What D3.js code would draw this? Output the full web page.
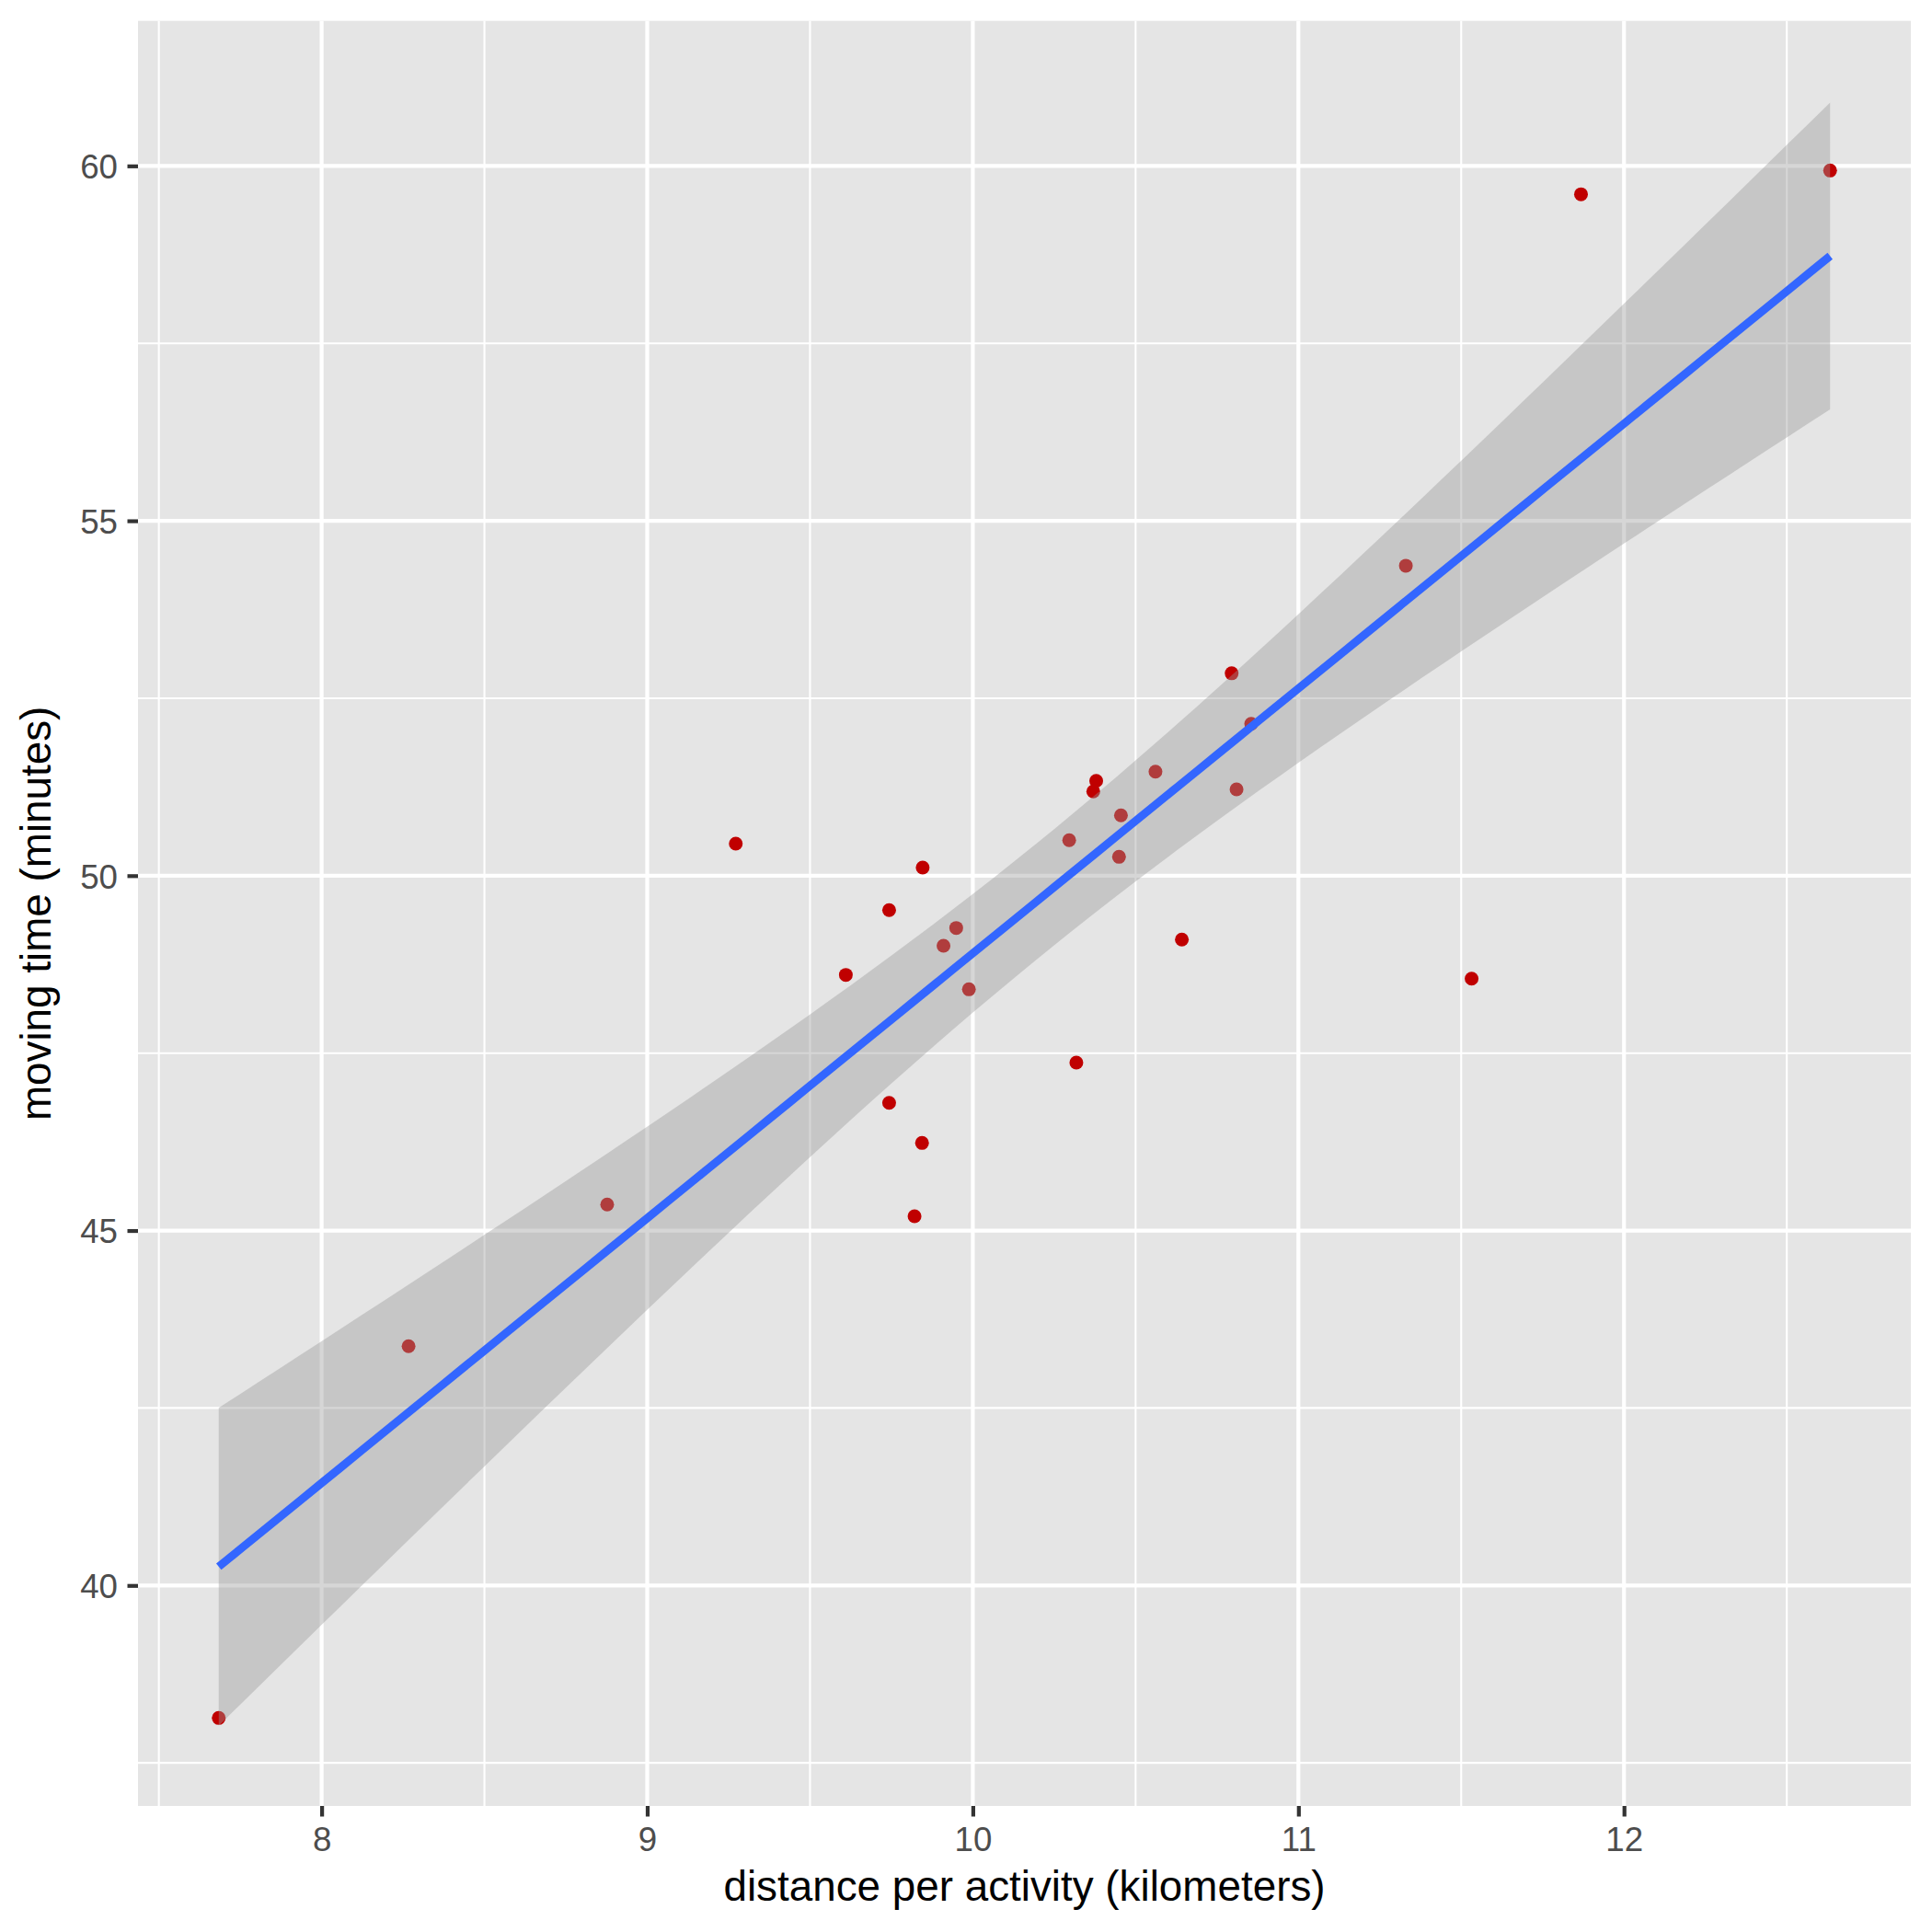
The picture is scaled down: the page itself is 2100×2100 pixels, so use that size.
<!DOCTYPE html>
<html>
<head>
<meta charset="utf-8">
<script src="https://cdn.jsdelivr.net/npm/d3@7"></script>
<style>
  body { margin: 0; background: #ffffff; }
  text { font-family: "Liberation Sans", Arial, Helvetica, sans-serif; }
</style>
</head>
<body>
<div id="chart"></div>
<script>
// distance per activity (km) and moving time (min)
const distanceKm = [
  7.684, 8.267, 8.877, 9.272, 9.610, 9.743, 9.743, 9.821, 9.846, 9.844,
  9.910, 9.949, 9.988, 10.296, 10.318, 10.370, 10.379, 10.449, 10.455, 10.561,
  10.642, 10.795, 10.810, 10.855, 11.330, 11.532, 11.868, 12.633
];
const movingMin = [
  38.133, 43.370, 45.366, 50.451, 48.602, 49.514, 46.800, 45.202, 50.114, 46.234,
  49.012, 49.263, 48.399, 50.500, 47.366, 51.186, 51.336, 50.265, 50.849, 51.466,
  49.099, 52.851, 51.216, 52.139, 54.367, 48.549, 59.600, 59.935
];

const xTicks = [8, 9, 10, 11, 12];
const xMinor = [7.5, 8.5, 9.5, 10.5, 11.5, 12.5];
const yTicks = [40, 45, 50, 55, 60];
const yMinor = [37.5, 42.5, 47.5, 52.5, 57.5];

const points = distanceKm.map((d, i) => ({ x: d, y: movingMin[i] }));

// geom_smooth(method = "lm") : fit + 95% confidence band
function lmBand(data, nOut) {
  const n = data.length;
  const mx = d3.mean(data, (d) => d.x);
  const my = d3.mean(data, (d) => d.y);
  const sxx = d3.sum(data, (d) => (d.x - mx) ** 2);
  const sxy = d3.sum(data, (d) => (d.x - mx) * (d.y - my));
  const b = sxy / sxx;
  const a = my - b * mx;
  const sse = d3.sum(data, (d) => (d.y - (a + b * d.x)) ** 2);
  const s = Math.sqrt(sse / (n - 2));
  const t = 2.0555; // qt(0.975, 26)
  const [lo, hi] = d3.extent(data, (d) => d.x);
  return d3.range(nOut).map((i) => {
    const x = lo + ((hi - lo) * i) / (nOut - 1);
    const fit = a + b * x;
    const se = s * Math.sqrt(1 / n + (x - mx) ** 2 / sxx);
    return { x, fit, ymin: fit - t * se, ymax: fit + t * se };
  });
}
const band = lmBand(points, 80);

const width = 2100;
const height = 2100;
const margin = { top: 22.7, right: 23, bottom: 137, left: 150 };

const svg = d3
  .select("#chart")
  .append("svg")
  .attr("width", width)
  .attr("height", height);

const x = d3
  .scaleLinear()
  .domain([7.436, 12.881])
  .range([margin.left, width - margin.right]);

const y = d3
  .scaleLinear()
  .domain([36.893, 62.043])
  .range([height - margin.bottom, margin.top]);

// panel
svg
  .append("rect")
  .attr("x", margin.left)
  .attr("y", margin.top)
  .attr("width", width - margin.right - margin.left)
  .attr("height", height - margin.bottom - margin.top)
  .attr("fill", "#e5e5e5");

const grid = svg.append("g");

// minor grid
grid
  .selectAll(".vminor")
  .data(xMinor)
  .enter()
  .append("line")
  .attr("x1", (d) => x(d))
  .attr("x2", (d) => x(d))
  .attr("y1", margin.top)
  .attr("y2", height - margin.bottom)
  .attr("stroke", "#ffffff")
  .attr("stroke-width", 2.1);

grid
  .selectAll(".hminor")
  .data(yMinor)
  .enter()
  .append("line")
  .attr("x1", margin.left)
  .attr("x2", width - margin.right)
  .attr("y1", (d) => y(d))
  .attr("y2", (d) => y(d))
  .attr("stroke", "#ffffff")
  .attr("stroke-width", 2.1);

// major grid
grid
  .selectAll(".vmajor")
  .data(xTicks)
  .enter()
  .append("line")
  .attr("x1", (d) => x(d))
  .attr("x2", (d) => x(d))
  .attr("y1", margin.top)
  .attr("y2", height - margin.bottom)
  .attr("stroke", "#ffffff")
  .attr("stroke-width", 4.2);

grid
  .selectAll(".hmajor")
  .data(yTicks)
  .enter()
  .append("line")
  .attr("x1", margin.left)
  .attr("x2", width - margin.right)
  .attr("y1", (d) => y(d))
  .attr("y2", (d) => y(d))
  .attr("stroke", "#ffffff")
  .attr("stroke-width", 4.2);

// points (drawn first, ribbon goes over them)
svg
  .append("g")
  .selectAll("circle")
  .data(points)
  .enter()
  .append("circle")
  .attr("cx", (d) => x(d.x))
  .attr("cy", (d) => y(d.y))
  .attr("r", 7.5)
  .attr("fill", "#c00000");

// confidence ribbon
svg
  .append("path")
  .datum(band)
  .attr("fill", "#999999")
  .attr("fill-opacity", 0.4)
  .attr(
    "d",
    d3
      .area()
      .x((d) => x(d.x))
      .y0((d) => y(d.ymin))
      .y1((d) => y(d.ymax))
  );

// fitted line
svg
  .append("path")
  .datum(band)
  .attr("fill", "none")
  .attr("stroke", "#3366ff")
  .attr("stroke-width", 8.8)
  .attr(
    "d",
    d3
      .line()
      .x((d) => x(d.x))
      .y((d) => y(d.fit))
  );

// axes
const xAxis = svg
  .append("g")
  .attr("transform", `translate(0,${height - margin.bottom})`)
  .call(
    d3
      .axisBottom(x)
      .tickValues(xTicks)
      .tickFormat(d3.format("d"))
      .tickSize(11.5)
      .tickPadding(0)
  );
xAxis.select(".domain").remove();
xAxis.selectAll("line").attr("stroke", "#333333").attr("stroke-width", 4.2);
xAxis
  .selectAll("text")
  .attr("y", 49)
  .attr("dy", null)
  .attr("fill", "#4d4d4d")
  .style("font-size", "36.7px")
  .style("font-family", '"Liberation Sans", Arial, sans-serif');

const yAxis = svg
  .append("g")
  .attr("transform", `translate(${margin.left},0)`)
  .call(
    d3
      .axisLeft(y)
      .tickValues(yTicks)
      .tickFormat(d3.format("d"))
      .tickSize(11.5)
      .tickPadding(0)
  );
yAxis.select(".domain").remove();
yAxis.selectAll("line").attr("stroke", "#333333").attr("stroke-width", 4.2);
yAxis
  .selectAll("text")
  .attr("x", -22)
  .attr("dy", "13.3px")
  .attr("fill", "#4d4d4d")
  .style("font-size", "36.7px")
  .style("font-family", '"Liberation Sans", Arial, sans-serif');

// axis titles
svg
  .append("text")
  .attr("text-anchor", "middle")
  .attr("x", (margin.left + width - margin.right) / 2)
  .attr("y", 2066)
  .style("font-size", "45.8px")
  .attr("fill", "#000000")
  .text("distance per activity (kilometers)");

svg
  .append("text")
  .attr("text-anchor", "middle")
  .attr("transform", `translate(55,${(margin.top + height - margin.bottom) / 2}) rotate(-90)`)
  .style("font-size", "45.8px")
  .attr("fill", "#000000")
  .text("moving time (minutes)");
</script>
</body>
</html>
